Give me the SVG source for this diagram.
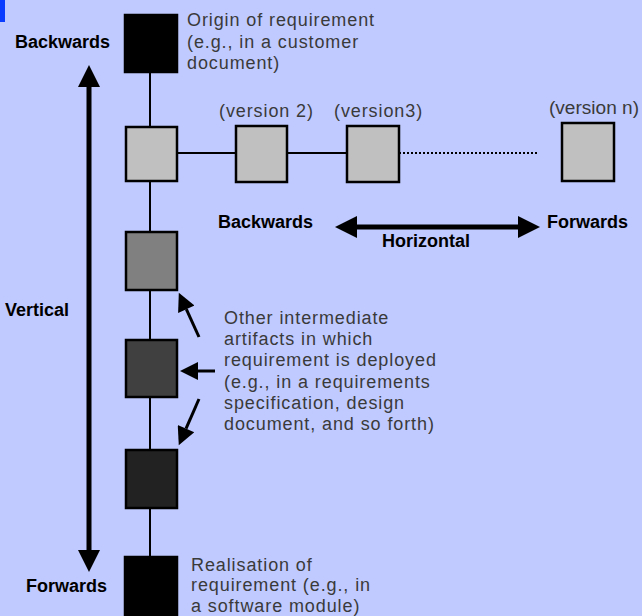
<svg xmlns="http://www.w3.org/2000/svg" width="642" height="616" viewBox="0 0 642 616">
<style>
.bg{fill:#c0caff}
.box{stroke:#000;stroke-width:2.5}
.ln{stroke:#000;stroke-width:2;fill:none}
.note{font-family:"Liberation Sans",Arial,sans-serif;font-size:18px;letter-spacing:0.9px;fill:#3a3a3a}
.lab{font-family:"Liberation Sans",Arial,sans-serif;font-size:18px;font-weight:bold;fill:#000}
.big{stroke:#000;stroke-width:5;fill:none}
.sm{stroke:#000;stroke-width:3;fill:none}
</style>
<defs>
<marker id="ah" viewBox="0 0 10 10" refX="0" refY="5" markerWidth="5" markerHeight="4.4" orient="auto-start-reverse" markerUnits="strokeWidth">
<path d="M0,0 L10,5 L0,10 z" fill="#000"/>
</marker>
<marker id="as" viewBox="0 0 10 10" refX="0" refY="5" markerWidth="6.7" markerHeight="6" orient="auto" markerUnits="strokeWidth">
<path d="M0,0 L10,5 L0,10 z" fill="#000"/>
</marker>
</defs>
<rect class="bg" x="0" y="0" width="642" height="616"/>
<rect x="0" y="0" width="5" height="22" fill="#0a3cff"/>

<g id="connectors">
<line class="ln" x1="150" y1="72" x2="150" y2="557"/>
<line class="ln" x1="177" y1="153" x2="346" y2="153"/>
<line x1="399" y1="153" x2="537" y2="153" stroke="#000" stroke-width="2" stroke-dasharray="2,2"/>
<line class="big" x1="89" y1="87" x2="89" y2="550" marker-start="url(#ah)" marker-end="url(#ah)"/>
<line class="big" x1="357" y1="227" x2="518" y2="227" marker-start="url(#ah)" marker-end="url(#ah)"/>
<line class="sm" x1="199" y1="337" x2="186.3" y2="309.2" marker-end="url(#as)"/>
<line class="sm" x1="215" y1="371" x2="198" y2="371" marker-end="url(#as)"/>
<line class="sm" x1="199" y1="399" x2="186" y2="428.7" marker-end="url(#as)"/>
</g>

<g id="origin">
<rect class="box" x="125" y="15" width="52" height="57" fill="#000"/>
<text class="note" x="187" y="26">Origin of requirement</text>
<text class="note" x="187" y="48">(e.g., in a customer</text>
<text class="note" x="187" y="69">document)</text>
</g>
<g id="v1"><rect class="box" x="126" y="127" width="51" height="54" fill="#c0c0c0"/></g>
<g id="v2">
<rect class="box" x="236" y="126" width="51" height="56" fill="#c0c0c0"/>
<text class="note" x="219" y="117">(version 2)</text>
</g>
<g id="v3">
<rect class="box" x="347" y="126" width="52" height="56" fill="#c0c0c0"/>
<text class="note" x="334" y="117">(version3)</text>
</g>
<g id="vn">
<rect class="box" x="562" y="123" width="52" height="58" fill="#c0c0c0"/>
<text class="note" x="549" y="114" style="letter-spacing:0" textLength="90" lengthAdjust="spacingAndGlyphs">(version n)</text>
</g>
<g id="a1"><rect class="box" x="126" y="232" width="51" height="58" fill="#808080"/></g>
<g id="a2"><rect class="box" x="126" y="340" width="51" height="57" fill="#404040"/></g>
<g id="a3"><rect class="box" x="126" y="450" width="51" height="58" fill="#222"/></g>
<g id="realisation">
<rect class="box" x="125" y="557" width="52" height="62" fill="#000"/>
<text class="note" x="191" y="571">Realisation of</text>
<text class="note" x="191" y="591">requirement (e.g., in</text>
<text class="note" x="191" y="612">a software module)</text>
</g>
<g id="intermediate">
<text class="note" x="224" y="324">Other intermediate</text>
<text class="note" x="224" y="345">artifacts in which</text>
<text class="note" x="224" y="366">requirement is deployed</text>
<text class="note" x="224" y="388">(e.g., in a requirements</text>
<text class="note" x="224" y="409">specification, design</text>
<text class="note" x="224" y="430">document, and so forth)</text>
</g>
<g id="labels">
<text class="lab" x="15" y="48">Backwards</text>
<text class="lab" x="5" y="316">Vertical</text>
<text class="lab" x="26" y="592">Forwards</text>
<text class="lab" x="218" y="228">Backwards</text>
<text class="lab" x="547" y="228">Forwards</text>
<text class="lab" x="382" y="247">Horizontal</text>
</g>
</svg>
